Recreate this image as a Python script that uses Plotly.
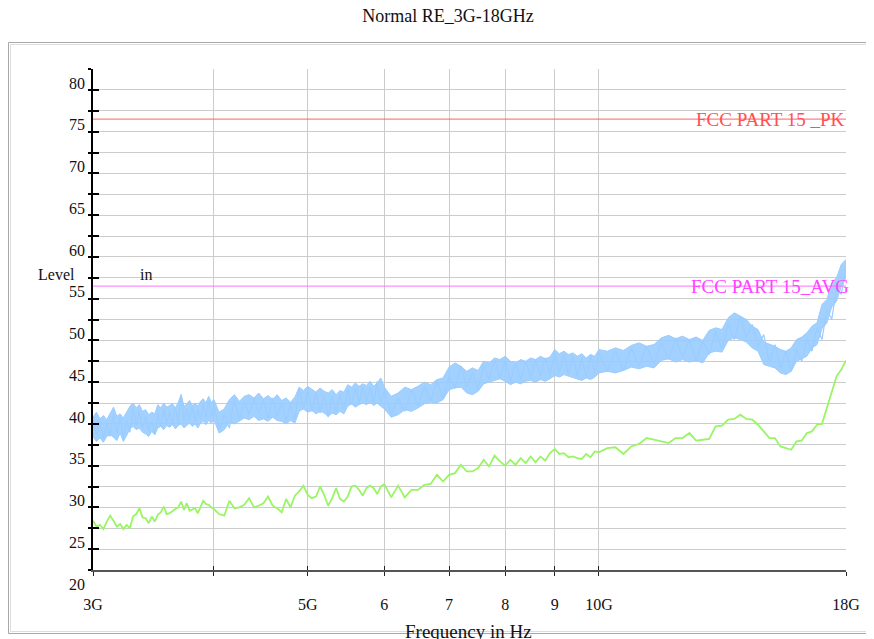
import plotly.graph_objects as go

# ---------------- data (frequency in GHz, level in dBuV/m) ----------------
freq_ghz = [
    3.000, 3.025, 3.050, 3.075, 3.100, 3.125, 3.150, 3.175, 3.200, 3.225,
    3.250, 3.275, 3.300, 3.325, 3.350, 3.375, 3.400, 3.425, 3.450, 3.475,
    3.500, 3.525, 3.550, 3.575, 3.600, 3.625, 3.650, 3.675, 3.700, 3.725,
    3.750, 3.775, 3.800, 3.825, 3.850, 3.875, 3.900, 3.925, 3.950, 3.975,
    4.000,
    4.05, 4.10, 4.15, 4.20, 4.25, 4.30, 4.35, 4.40, 4.45, 4.50,
    4.55, 4.60, 4.65, 4.70, 4.75, 4.80, 4.85, 4.90, 4.95, 5.00,
    5.05, 5.10, 5.15, 5.20, 5.25, 5.30, 5.35, 5.40, 5.45, 5.50,
    5.55, 5.60, 5.65, 5.70, 5.75, 5.80, 5.85, 5.90, 5.95, 6.00,
    6.1, 6.2, 6.3, 6.4, 6.5, 6.6, 6.7, 6.8, 6.9, 7.0,
    7.1, 7.2, 7.3, 7.4, 7.5, 7.6, 7.7, 7.8, 7.9, 8.0,
    8.1, 8.2, 8.3, 8.4, 8.5, 8.6, 8.7, 8.8, 8.9, 9.0,
    9.1, 9.2, 9.3, 9.4, 9.5, 9.6, 9.7, 9.8, 9.9, 10.0,
    10.2, 10.4, 10.6, 10.8, 11.0, 11.2, 11.4, 11.6, 11.8, 12.0,
    12.2, 12.4, 12.6, 12.8, 13.0, 13.2, 13.4, 13.6, 13.8, 14.0,
    14.2, 14.4, 14.6, 14.8, 15.0, 15.2, 15.4, 15.6, 15.8, 16.0,
    16.2, 16.4, 16.6, 16.8, 17.0, 17.2, 17.4, 17.6, 17.8, 18.0,
]

# peak detector trace (sampled values)
peak_level = [
    38.0, 36.2, 37.8, 35.8, 37.5, 36.0, 38.6, 36.4, 38.3, 35.9,
    37.9, 36.5, 39.2, 37.3, 39.0, 37.0, 38.4, 36.6, 37.9, 36.2,
    38.8, 37.2, 39.3, 37.5, 39.0, 37.4, 39.5, 37.6, 41.0, 37.8,
    39.4, 37.9, 39.6, 37.7, 39.2, 38.0, 40.0, 38.2, 40.2, 38.3,
    39.8,
    36.8, 38.6, 37.0, 40.6, 38.0, 40.2, 38.6, 40.5, 38.7, 40.3,
    38.2, 40.6, 38.4, 40.0, 37.9, 39.8, 38.0, 41.8, 39.2, 41.6,
    39.0, 41.2, 38.8, 41.0, 38.3, 40.8, 39.0, 41.0, 39.2, 41.6,
    39.8, 41.8, 40.0, 42.0, 40.2, 41.9, 40.0, 42.6, 39.9, 41.5,
    38.6, 40.6, 39.0, 41.6, 39.6, 42.0, 40.2, 42.6, 40.6, 43.2,
    41.8, 44.4, 42.0, 43.6, 41.6, 44.6, 42.8, 45.2, 43.0, 45.0,
    42.6, 44.8, 42.8, 45.0, 43.0, 45.2, 43.2, 45.4, 43.4, 46.0,
    43.6, 45.8, 43.4, 45.6, 43.2, 45.4, 43.0, 45.8, 43.6, 46.0,
    43.8, 46.2, 43.9, 46.6, 44.4, 46.8, 44.6, 47.2, 45.2, 47.8,
    45.4, 47.6, 45.0, 47.4, 45.8, 48.6, 46.4, 49.6, 47.6, 50.4,
    47.8, 49.4, 46.8, 48.2, 44.8, 47.0, 44.2, 46.2, 43.8, 46.4,
    45.0, 47.6, 46.2, 49.0, 47.6, 51.2, 50.0, 53.8, 53.0, 56.2,
]

# upper / lower edges of the peak trace's noise band
peak_upper = [
    38.3, 38.9, 38.1, 38.5, 38.0, 38.8, 39.5, 38.4, 38.7, 38.2,
    39.0, 39.6, 40.0, 39.4, 39.8, 39.0, 39.2, 38.6, 38.9, 38.7,
    39.8, 39.4, 40.0, 39.5, 39.7, 39.9, 39.4, 40.1, 41.0, 39.6,
    39.9, 40.3, 39.7, 40.0, 39.6, 40.2, 40.5, 40.0, 40.8, 40.1,
    40.4,
    38.9, 39.3, 40.4, 41.0, 40.2, 40.8, 41.0, 40.6, 41.2, 40.5,
    40.9, 40.4, 41.0, 40.3, 40.6, 40.1, 40.7, 41.9, 41.5, 42.0,
    41.6, 41.3, 41.8, 41.4, 41.2, 41.6, 41.0, 41.5, 41.3, 42.2,
    41.9, 42.4, 42.0, 42.3, 42.1, 42.6, 42.0, 42.4, 43.0, 41.9,
    40.8, 41.2, 41.9, 41.6, 42.0, 42.5, 42.2, 42.8, 43.0, 44.3,
    44.8, 44.4, 43.8, 44.2, 43.9, 45.0, 44.8, 45.4, 45.2, 45.6,
    45.0, 44.8, 45.2, 45.0, 45.4, 45.2, 45.6, 45.3, 45.5, 46.4,
    45.9, 46.2, 45.8, 46.0, 45.6, 45.9, 45.4, 45.8, 45.6, 46.4,
    46.2, 46.6, 46.3, 46.9, 47.2, 46.8, 47.0, 47.8, 48.1, 47.7,
    48.0, 47.6, 47.9, 47.5, 48.7, 49.0, 48.8, 50.2, 50.8, 50.4,
    50.0, 49.2, 48.8, 47.3, 47.0, 46.8, 46.4, 46.2, 46.6, 47.6,
    47.9, 48.4, 49.2, 49.6, 51.8, 52.4, 54.4, 55.0, 56.6, 57.2,
]

peak_lower = [
    35.9, 35.4, 35.8, 35.3, 36.0, 36.2, 35.9, 35.5, 36.4, 35.4,
    36.1, 36.9, 37.2, 36.8, 37.0, 36.5, 36.3, 36.0, 36.6, 36.2,
    37.0, 37.2, 36.8, 37.3, 37.1, 37.4, 36.9, 37.3, 37.5, 37.0,
    37.3, 37.6, 37.2, 37.5, 37.0, 37.6, 37.8, 37.4, 37.9, 37.6,
    38.0,
    36.4, 36.8, 37.7, 37.5, 37.9, 38.2, 38.0, 38.4, 37.9, 38.1,
    37.8, 38.3, 37.9, 37.8, 37.5, 37.9, 37.6, 39.0, 39.3, 38.9,
    39.1, 38.7, 39.0, 38.8, 38.4, 38.8, 38.6, 39.0, 38.7, 39.6,
    39.9, 39.5, 39.8, 40.0, 39.8, 40.1, 39.7, 40.0, 39.6, 39.3,
    38.3, 38.6, 39.2, 39.0, 39.4, 39.9, 40.1, 40.0, 40.4, 41.6,
    41.8, 41.9, 41.2, 41.0, 41.4, 42.3, 42.5, 42.7, 42.9, 42.6,
    42.2, 42.5, 42.3, 42.6, 42.7, 42.5, 42.8, 42.6, 42.9, 43.3,
    43.1, 43.4, 43.2, 43.0, 42.9, 42.7, 43.0, 42.8, 43.1, 43.6,
    43.8, 43.6, 43.9, 44.3, 44.1, 44.4, 44.2, 45.1, 45.3, 44.9,
    45.2, 44.9, 45.1, 44.8, 46.0, 46.2, 46.1, 47.5, 47.8, 47.6,
    47.3, 46.6, 46.2, 44.6, 44.4, 44.2, 43.6, 43.4, 43.8, 45.0,
    45.3, 45.6, 46.6, 47.0, 48.9, 49.6, 51.5, 52.2, 54.0, 55.0,
]

avg_level = [
    25.9, 25.2, 25.4, 24.9, 25.8, 26.5, 25.9, 25.2, 25.5, 24.9,
    25.4, 25.0, 26.4, 26.7, 27.4, 26.3, 26.2, 25.6, 26.4, 25.8,
    26.6, 26.9, 27.6, 26.7, 26.8, 27.1, 27.3, 27.5, 28.2, 27.2,
    28.0, 27.1, 27.3, 27.4, 26.8, 27.6, 28.3, 27.9, 27.8, 27.5,
    27.3,
    26.7, 26.5, 28.3, 27.4, 27.5, 27.8, 28.6, 27.5, 27.7, 28.0,
    28.8, 27.7, 27.4, 26.9, 28.5, 27.5, 28.9, 29.4, 30.1, 29.0,
    28.6, 28.8, 30.0, 29.0, 27.7, 28.6, 29.8, 28.5, 28.2, 28.8,
    30.0, 30.1, 29.6, 28.9, 29.8, 30.1, 29.8, 29.1, 30.0, 30.3,
    28.7, 30.1, 28.7, 29.6, 29.6, 30.2, 30.3, 31.4, 30.6, 31.4,
    31.6, 32.6, 31.8, 31.8, 32.2, 33.2, 32.4, 33.7, 33.0, 32.5,
    33.2, 32.6, 33.4, 32.8, 33.6, 32.9, 33.6, 33.1, 34.0, 34.5,
    33.9, 34.0, 33.5, 33.6, 33.4, 33.3, 33.9, 33.5, 34.2, 34.1,
    34.6, 34.7, 33.9, 34.8, 35.1, 35.8, 35.6, 35.4, 35.2, 35.8,
    35.8, 36.4, 35.5, 35.6, 35.7, 37.2, 37.3, 38.0, 38.1, 38.6,
    38.1, 38.0, 37.4, 36.6, 35.8, 35.8, 34.8, 34.6, 34.4, 35.4,
    35.5, 36.4, 36.6, 37.4, 37.5, 39.4, 41.4, 43.2, 44.0, 45.1,
]

limit_names = ["FCC PART 15 _PK", "FCC PART 15_AVG"]
limit_values = [74, 54]
limit_span_ghz = [3.0, 18.0]

x_tick_vals = [3, 4, 5, 6, 7, 8, 9, 10, 18]
x_tick_text = ["3G", "", "5G", "6", "7", "8", "9", "10G", "18G"]

title_text = "Normal RE_3G-18GHz"
x_title = "Frequency in Hz"

# ---------------- figure ----------------
SERIF = "Liberation Serif, Times New Roman, serif"
W, H = 874, 639
OFF = 8                      # page body margin of the viewer
L, R, T, B = 85, 36, 61, 77
PW, PH = W - L - R, H - T - B


def sx(p):                   # screen pixel x -> paper x
    return (p - OFF - L) / PW


def sy(p):                   # screen pixel y -> paper y
    return (H - B - (p - OFF)) / PH


fig = go.Figure()

BLUE = "#99ccff"
# noise band of the peak trace (filled between its lower and upper edges)
fig.add_trace(go.Scatter(x=freq_ghz, y=peak_lower, mode="lines",
                         line=dict(color=BLUE, width=1), hoverinfo="skip"))
fig.add_trace(go.Scatter(x=freq_ghz, y=peak_upper, mode="lines", fill="tonexty",
                         fillcolor="rgba(153,204,255,0.9)",
                         line=dict(color=BLUE, width=1), hoverinfo="skip"))
fig.add_trace(go.Scatter(x=freq_ghz, y=peak_level, mode="lines",
                         line=dict(color=BLUE, width=1.2), name="Peak"))
fig.add_trace(go.Scatter(x=freq_ghz, y=avg_level, mode="lines",
                         line=dict(color="#99f566", width=1.8), name="Average"))

limit_colors = ["#ff6060", "#ff70ff"]
for name, val, col in zip(limit_names, limit_values, limit_colors):
    fig.add_trace(go.Scatter(x=limit_span_ghz, y=[val, val], mode="lines",
                             line=dict(color=col, width=1), name=name,
                             xaxis="x2", yaxis="y2"))

xr = [0.47712125, 1.25527251]
axis_font = dict(family=SERIF, size=16, color="#111")

fig.update_layout(
    width=W, height=H,
    margin=dict(l=L, r=R, t=T, b=B),
    paper_bgcolor="white", plot_bgcolor="white",
    showlegend=False,
    title=dict(text=title_text, font=dict(family=SERIF, size=18, color="#111"),
               xref="container", x=(448 - OFF) / W, xanchor="center",
               yref="container", y=1 - (16 - OFF) / H, yanchor="middle"),
    xaxis=dict(type="log", range=xr, tickvals=x_tick_vals, ticktext=x_tick_text,
               showgrid=True, gridcolor="#cccccc", gridwidth=1,
               showline=True, linecolor="#555555", linewidth=2,
               ticks="outside", ticklen=4, tickcolor="#222", tickwidth=1,
               ticklabelstandoff=15, tickfont=axis_font, zeroline=False),
    yaxis=dict(range=[20, 80], tick0=20, dtick=5,
               showgrid=True, gridcolor="#cccccc", gridwidth=1,
               showline=True, linecolor="#000", linewidth=1.5,
               ticks="outside", ticklen=3, tickcolor="#000", tickwidth=1.5,
               ticklabelshift=14, tickfont=axis_font, zeroline=False,
               minor=dict(tick0=20, dtick=2.5, showgrid=True, gridcolor="#cccccc",
                          ticks="outside", ticklen=3, tickcolor="#000", tickwidth=1.5)),
    xaxis2=dict(type="log", range=xr, overlaying="x", anchor="y2", side="bottom",
                tickvals=x_tick_vals, showticklabels=False, showgrid=False,
                ticks="inside", ticklen=4, tickcolor="#222", tickwidth=1,
                showline=False, zeroline=False),
    yaxis2=dict(range=[20, 80], overlaying="y", anchor="x2", side="left",
                tick0=20, dtick=5, showticklabels=False, showgrid=False,
                ticks="inside", ticklen=6, tickcolor="#000", tickwidth=1.5,
                showline=False, zeroline=False,
                minor=dict(tick0=20, dtick=2.5, ticks="inside", ticklen=6,
                           tickcolor="#000", tickwidth=1.5, showgrid=False)),
)

# limit line labels
fig.add_annotation(text=limit_names[0], xref="paper", x=sx(847), xanchor="right",
                   yref="y", y=limit_values[0], yanchor="middle", showarrow=False,
                   font=dict(family=SERIF, size=19, color="#ff5050"))
fig.add_annotation(text=limit_names[1], xref="paper", x=sx(851), xanchor="right",
                   yref="y", y=limit_values[1], yanchor="middle", showarrow=False,
                   font=dict(family=SERIF, size=19, color="#ff44ff"))

# y-axis title (split as in the reference)
fig.add_annotation(text="Level", xref="paper", x=sx(56), xanchor="center",
                   yref="paper", y=sy(274), yanchor="middle", showarrow=False,
                   font=dict(family=SERIF, size=16, color="#111"))
fig.add_annotation(text="in", xref="paper", x=sx(146), xanchor="center",
                   yref="paper", y=sy(274), yanchor="middle", showarrow=False,
                   font=dict(family=SERIF, size=16, color="#111"))

# x-axis title
fig.add_annotation(text=x_title, xref="paper", x=sx(468), xanchor="center",
                   yref="paper", y=sy(619), yanchor="top", showarrow=False,
                   font=dict(family=SERIF, size=19, color="#111"))

# outer frame (double grey line)
fig.add_shape(type="rect", xref="paper", yref="paper",
              x0=sx(8.5), x1=sx(900), y0=sy(633.5), y1=sy(42.5),
              line=dict(color="#a8a8a8", width=1), layer="below")
fig.add_shape(type="rect", xref="paper", yref="paper",
              x0=sx(10.5), x1=sx(900), y0=sy(631.5), y1=sy(44.5),
              line=dict(color="#dddddd", width=1), layer="below")

fig.write_html("out.html")
